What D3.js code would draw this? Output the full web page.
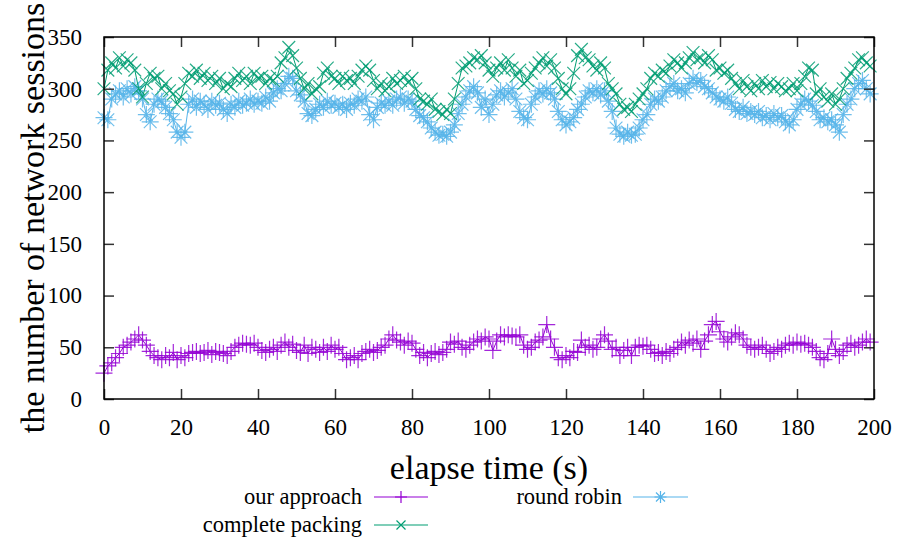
<!DOCTYPE html>
<html>
<head>
<meta charset="utf-8">
<script src="https://cdn.jsdelivr.net/npm/d3@7/dist/d3.min.js"></script>
<style>
  html, body { margin: 0; padding: 0; background: #fff; }
  svg { display: block; }
  text { font-family: "Liberation Serif", "Times New Roman", Times, "DejaVu Serif", serif; fill: #000; }
</style>
</head>
<body>
<svg id="chart" width="899" height="542"></svg>
<script>
// Elapsed time in seconds (one sample per second)
const times = d3.range(0, 200);

const ourApproach = [
  25, 32, 35, 40, 44, 50, 52, 55, 58, 62,
  57, 52, 46, 42, 40, 38, 42, 40, 45, 38,
  42, 40, 44, 45, 46, 44, 45, 47, 43, 46,
  45, 44, 42, 46, 50, 52, 54, 53, 52, 54,
  50, 47, 45, 48, 50, 46, 52, 55, 50, 53,
  47, 45, 52, 44, 50, 48, 45, 50, 46, 52,
  48, 50, 44, 38, 40, 42, 38, 44, 46, 48,
  45, 47, 50, 52, 58, 62, 57, 55, 52, 56,
  54, 48, 42, 45, 40, 44, 46, 43, 45, 48,
  55, 53, 56, 50, 48, 52, 55, 58, 56, 60,
  58, 47, 56, 62, 60, 62, 61, 60, 62, 52,
  48, 50, 55, 57, 60, 72, 58, 50, 40, 38,
  42, 40, 46, 45, 57, 50, 52, 48, 50, 58,
  62, 56, 48, 50, 42, 47, 50, 42, 50, 52,
  51, 52, 48, 44, 45, 42, 46, 44, 48, 50,
  55, 52, 57, 54, 58, 48, 56, 62, 72, 75,
  65, 58, 55, 60, 64, 62, 58, 52, 50, 48,
  50, 52, 48, 44, 46, 50, 48, 52, 54, 52,
  55, 53, 54, 52, 50, 46, 40, 38, 44, 58,
  48, 42, 46, 52, 54, 50, 52, 55, 58, 55
];

const completePacking = [
  300, 318, 325, 320, 330, 322, 328, 325, 318, 300,
  292, 305, 315, 310, 312, 300, 305, 298, 295, 285,
  292, 305, 315, 312, 318, 310, 315, 308, 312, 305,
  310, 300, 305, 302, 310, 315, 308, 312, 305, 315,
  310, 312, 305, 310, 308, 312, 325, 330, 340, 332,
  320, 310, 300, 305, 295, 300, 302, 315, 320, 312,
  310, 305, 312, 308, 310, 305, 312, 318, 322, 318,
  308, 300, 305, 298, 302, 310, 305, 308, 312, 306,
  310, 300, 290, 288, 285, 290, 280, 278, 275, 280,
  276, 290, 305, 320, 322, 325, 330, 328, 332, 325,
  318, 312, 320, 325, 318, 328, 320, 312, 318, 305,
  308, 315, 320, 325, 330, 322, 328, 320, 310, 300,
  295, 300, 315, 332, 338, 330, 328, 322, 318, 325,
  320, 305, 300, 295, 285, 280, 282, 278, 285, 290,
  295, 300, 310, 315, 312, 318, 315, 322, 328, 325,
  320, 325, 330, 335, 328, 330, 325, 332, 328, 318,
  320, 315, 318, 310, 305, 300, 308, 302, 298, 305,
  300, 308, 302, 306, 300, 305, 302, 298, 300, 305,
  298, 305, 312, 320, 318, 295, 300, 292, 288, 295,
  285, 290, 300, 310, 315, 320, 328, 330, 325, 322
];

const roundRobin = [
  272, 270, 290, 295, 298, 292, 300, 295, 302, 298,
  290, 275, 268, 285, 290, 288, 282, 276, 270, 258,
  253, 258, 285, 290, 282, 288, 285, 280, 288, 284,
  286, 280, 276, 285, 282, 288, 284, 286, 290, 285,
  288, 286, 292, 288, 296, 300, 298, 305, 312, 310,
  298, 294, 288, 276, 274, 280, 285, 282, 288, 284,
  286, 282, 285, 280, 286, 284, 290, 288, 292, 275,
  270, 282, 286, 284, 288, 284, 290, 292, 286, 290,
  288, 280, 274, 272, 268, 262, 258, 255, 256, 254,
  258, 265, 276, 285, 292, 298, 302, 296, 282, 290,
  275, 285, 294, 298, 292, 296, 300, 290, 278, 272,
  270, 285, 292, 298, 295, 300, 296, 290, 278, 270,
  265, 268, 272, 280, 285, 292, 298, 296, 300, 294,
  298, 288, 278, 262, 256, 254, 258, 255, 256, 262,
  270, 275, 285, 290, 288, 292, 298, 302, 305, 298,
  300, 296, 305, 310, 306, 308, 302, 300, 296, 292,
  290, 288, 292, 286, 280, 278, 282, 276, 278, 275,
  278, 272, 274, 270, 276, 272, 274, 268, 265, 270,
  280, 285, 290, 288, 284, 278, 270, 272, 268, 270,
  265, 258, 275, 285, 290, 300, 305, 308, 300, 295
];

const xTicks = [0, 20, 40, 60, 80, 100, 120, 140, 160, 180, 200];
const yTicks = [0, 50, 100, 150, 200, 250, 300, 350];

// Series in drawing order: name, values, colour, marker kind
const series = [
  { name: "our approach", values: ourApproach, color: "#9400d3", marker: "plus" },
  { name: "round robin", values: roundRobin, color: "#56b4e9", marker: "star" },
  { name: "complete packing", values: completePacking, color: "#009e73", marker: "cross" }
];

const FONT = "'Liberation Serif', 'Times New Roman', Times, 'DejaVu Serif', serif";

const svg = d3.select("#chart");
const plot = { left: 104, right: 874, top: 37, bottom: 399 };

const x = d3.scaleLinear().domain([0, 200]).range([plot.left, plot.right]);
const y = d3.scaleLinear().domain([0, 350]).range([plot.bottom, plot.top]);

// Marker path generator (gnuplot-style point types)
function markerPath(kind, r) {
  const p = d3.path();
  if (kind === "plus" || kind === "star") {
    p.moveTo(-r, 0); p.lineTo(r, 0);
    p.moveTo(0, -r); p.lineTo(0, r);
  }
  if (kind === "cross" || kind === "star") {
    const d = r * 0.75;
    p.moveTo(-d, -d); p.lineTo(d, d);
    p.moveTo(-d, d); p.lineTo(d, -d);
  }
  return p.toString();
}

const MARK_R = 8.5;

const line = d3.line().x((d, i) => x(times[i])).y(d => y(d));

// Data series
const gData = svg.append("g");
series.forEach(s => {
  const g = gData.append("g");
  g.append("path")
    .datum(s.values)
    .attr("d", line)
    .attr("fill", "none")
    .attr("stroke", s.color)
    .attr("stroke-width", 1);
  g.selectAll("path.mk")
    .data(s.values)
    .join("path")
    .attr("class", "mk")
    .attr("transform", (d, i) => `translate(${x(times[i])},${y(d)})`)
    .attr("d", markerPath(s.marker, MARK_R))
    .attr("fill", "none")
    .attr("stroke", s.color)
    .attr("stroke-width", 1.2)
    .attr("stroke-opacity", 0.85);
});

// Axes (ticks inward, mirrored on the opposite side)
const TICK = 10;
const axisColor = "#333";

const xBottom = d3.axisBottom(x).tickValues(xTicks).tickSize(-TICK).tickPadding(20);
const xTop = d3.axisTop(x).tickValues(xTicks).tickSize(-TICK).tickFormat("");
const yLeft = d3.axisLeft(y).tickValues(yTicks).tickSize(-TICK).tickPadding(22);
const yRight = d3.axisRight(y).tickValues(yTicks).tickSize(-TICK).tickFormat("");

function styleAxis(g) {
  g.attr("font-family", FONT);
  g.select(".domain").remove();
  g.selectAll(".tick line").attr("stroke", axisColor).attr("stroke-width", 1.5);
  g.selectAll("text")
    .attr("font-size", 23)
    .attr("fill", "#000");
}

svg.append("g").attr("transform", `translate(0,${plot.bottom})`).call(xBottom).call(styleAxis);
svg.append("g").attr("transform", `translate(0,${plot.top})`).call(xTop).call(styleAxis);
svg.append("g").attr("transform", `translate(${plot.left},0)`).call(yLeft).call(styleAxis);
svg.append("g").attr("transform", `translate(${plot.right},0)`).call(yRight).call(styleAxis);

// Plot border
svg.append("rect")
  .attr("x", plot.left).attr("y", plot.top)
  .attr("width", plot.right - plot.left)
  .attr("height", plot.bottom - plot.top)
  .attr("fill", "none")
  .attr("stroke", "#000")
  .attr("stroke-width", 1.5);

// Axis titles
svg.append("text")
  .attr("x", 489).attr("y", 479)
  .attr("text-anchor", "middle")
  .attr("font-family", FONT)
  .attr("font-size", 34)
  .text("elapse time (s)");

svg.append("text")
  .attr("transform", "translate(44,218) rotate(-90)")
  .attr("text-anchor", "middle")
  .attr("font-family", FONT)
  .attr("font-size", 34)
  .text("the number of network sessions");

// Legend (two columns, filled row by row)
const legendItems = [
  { s: series[0], textRight: 362, lineX1: 374, lineX2: 428, yPos: 497 },
  { s: series[1], textRight: 622, lineX1: 633, lineX2: 688, yPos: 497 },
  { s: series[2], textRight: 362, lineX1: 374, lineX2: 428, yPos: 525 }
];

const gLegend = svg.append("g").attr("font-family", FONT);
legendItems.forEach(it => {
  gLegend.append("text")
    .attr("x", it.textRight).attr("y", it.yPos + 7)
    .attr("text-anchor", "end")
    .attr("font-size", 22.5)
    .text(it.s.name);
  gLegend.append("line")
    .attr("x1", it.lineX1).attr("x2", it.lineX2)
    .attr("y1", it.yPos).attr("y2", it.yPos)
    .attr("stroke", it.s.color).attr("stroke-width", 1.2);
  gLegend.append("path")
    .attr("transform", `translate(${(it.lineX1 + it.lineX2) / 2},${it.yPos})`)
    .attr("d", markerPath(it.s.marker, 6))
    .attr("fill", "none")
    .attr("stroke", it.s.color)
    .attr("stroke-width", 1.2);
});
</script>
</body>
</html>
